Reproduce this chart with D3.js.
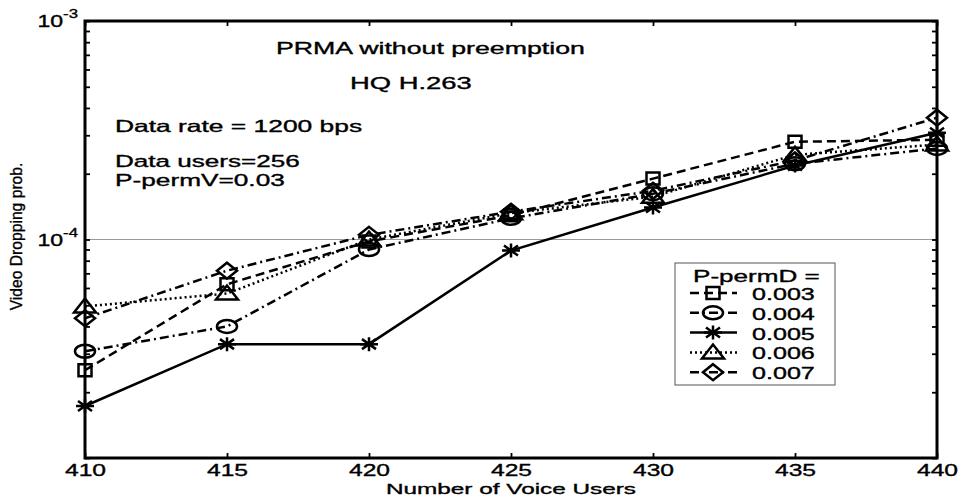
<!DOCTYPE html>
<html>
<head>
<meta charset="utf-8">
<script src="https://cdn.jsdelivr.net/npm/d3@7"></script>
<style>
  body { margin: 0; background: #fff; }
  text { font-family: "Liberation Sans", Arial, sans-serif; fill: #000; stroke: #000; stroke-width: 0.35px; }
</style>
</head>
<body>
<script>
// data
const voiceUsers = [410, 415, 420, 425, 430, 435, 440];
const permD = ["0.003", "0.004", "0.005", "0.006", "0.007"];
const p003 = [2.52e-5, 6.24e-5, 9.8e-5, 1.29e-4, 1.90e-4, 2.80e-4, 2.86e-4];
const p004 = [3.08e-5, 4.0e-5, 9.0e-5, 1.25e-4, 1.62e-4, 2.22e-4, 2.61e-4];
const p005 = [1.73e-5, 3.32e-5, 3.32e-5, 8.9e-5, 1.40e-4, 2.18e-4, 3.08e-4];
const p006 = [4.94e-5, 5.66e-5, 1.0e-4, 1.32e-4, 1.57e-4, 2.44e-4, 2.72e-4];
const p007 = [4.36e-5, 7.2e-5, 1.05e-4, 1.34e-4, 1.67e-4, 2.30e-4, 3.61e-4];
const seriesValues = [p003, p004, p005, p006, p007];
const yLabelled = [1e-4, 1e-3];
const yExponents = ["-4", "-3"];

// styles per series (matlab-ish)
const markers = ["square", "circle", "star", "triangle", "diamond"];
const dashes = ["9,5", "9,4,2,4", null, "2,3", "9,4,2,4"];

const width = 961, height = 498;
const x = d3.scaleLinear().domain([410, 440]).range([85, 937]);
const y = d3.scaleLog().domain([1e-5, 1e-3]).range([458, 21]);

const svg = d3.select("body").append("svg")
    .attr("width", width)
    .attr("height", height);

// marker outlines, a bit wider than tall like the scanned figure
const shapes = {
    square: "M-6.5,-6H6.5V6H-6.5Z",
    circle: "M-10,0A10,6.5 0 1,0 10,0A10,6.5 0 1,0 -10,0Z",
    star: "M-9,0H9M0,-7V7M-7,-5L7,5M-7,5L7,-5",
    triangle: "M0,-8L11,6H-11Z",
    diamond: "M0,-8L10,0L0,8L-10,0Z"
};

function txt(g, str, px, py, size, sx, anchor) {
    return g.append("text")
        .attr("transform", `translate(${px},${py}) scale(${sx},1)`)
        .attr("font-size", size)
        .attr("text-anchor", anchor || "start")
        .text(str);
}

// grid line at 1e-4
svg.append("line")
    .attr("x1", x(410)).attr("x2", x(440))
    .attr("y1", y(1e-4)).attr("y2", y(1e-4))
    .attr("stroke", "#999")
    .attr("stroke-width", 1);

// axes with inward ticks
const xBottom = svg.append("g")
    .attr("transform", `translate(0,${y(1e-5)})`)
    .call(d3.axisBottom(x).tickValues(voiceUsers).tickSizeInner(-5).tickSizeOuter(0).tickPadding(5.5));
xBottom.attr("font-family", null).attr("font-size", 17);
xBottom.selectAll("text").attr("transform", "scale(1.45,1)");

svg.append("g")
    .attr("transform", `translate(0,${y(1e-3)})`)
    .call(d3.axisTop(x).tickValues(voiceUsers).tickSizeInner(-5).tickSizeOuter(0).tickFormat(""));

svg.append("g")
    .attr("transform", `translate(${x(410)},0)`)
    .call(d3.axisLeft(y).tickValues(y.ticks()).tickSizeInner(-5).tickSizeOuter(0).tickFormat(""));

svg.append("g")
    .attr("transform", `translate(${x(440)},0)`)
    .call(d3.axisRight(y).tickValues(y.ticks()).tickSizeInner(-5).tickSizeOuter(0).tickFormat(""));

svg.selectAll(".domain").remove();
svg.selectAll(".tick line").attr("stroke-width", 1.8);

// frame
svg.append("rect")
    .attr("x", x(410)).attr("y", y(1e-3))
    .attr("width", x(440) - x(410))
    .attr("height", y(1e-5) - y(1e-3))
    .attr("fill", "none")
    .attr("stroke", "#000")
    .attr("stroke-width", 3);

// y tick labels 10^-n
yLabelled.forEach(function (v, i) {
    const t = svg.append("text")
        .attr("transform", `translate(78,${y(v) + 6}) scale(1.4,1)`)
        .attr("font-size", 16.5)
        .attr("text-anchor", "end");
    t.append("tspan").text("10");
    t.append("tspan").attr("dy", -9).attr("font-size", 12).text(yExponents[i]);
});

// axis titles
txt(svg, "Number of Voice Users", x(425), 494, 15.5, 1.57, "middle");
svg.append("text")
    .attr("transform", `translate(22,${y(1e-4) - 3}) rotate(-90) scale(0.95,1)`)
    .attr("font-size", 16.5)
    .attr("text-anchor", "middle")
    .text("Video Dropping prob.");

// lines + markers
const line = d3.line()
    .x((d, i) => x(voiceUsers[i]))
    .y(d => y(d));

seriesValues.forEach(function (vals, s) {
    svg.append("path")
        .datum(vals)
        .attr("d", line)
        .attr("fill", "none")
        .attr("stroke", "#000")
        .attr("stroke-width", 2.5)
        .attr("stroke-dasharray", dashes[s]);

    svg.selectAll(".m" + s)
        .data(vals)
        .enter().append("path")
        .attr("class", "m" + s)
        .attr("transform", (d, i) => `translate(${x(voiceUsers[i])},${y(d)})`)
        .attr("d", shapes[markers[s]])
        .attr("fill", "none")
        .attr("stroke", "#000")
        .attr("stroke-width", 2.5);
});

// annotations
txt(svg, "PRMA without preemption", 276, 54, 16.5, 1.62);
txt(svg, "HQ H.263", 350, 89, 16.5, 1.66);
txt(svg, "Data rate = 1200 bps", 115, 132, 16.5, 1.6);
txt(svg, "Data users=256", 115, 167, 16.5, 1.58);
txt(svg, "P-permV=0.03", 115, 186, 16.5, 1.59);

// legend
const legend = svg.append("g");
legend.append("rect")
    .attr("x", 675).attr("y", 263)
    .attr("width", 160).attr("height", 122)
    .attr("fill", "#fff")
    .attr("stroke", "#555")
    .attr("stroke-width", 1);
txt(legend, "P-permD =", 693, 282, 16.3, 1.6);

permD.forEach(function (name, s) {
    const ly = 293 + s * 19.8;
    legend.append("line")
        .attr("x1", 690).attr("x2", 737)
        .attr("y1", ly).attr("y2", ly)
        .attr("stroke", "#000")
        .attr("stroke-width", 2.5)
        .attr("stroke-dasharray", dashes[s]);
    legend.append("path")
        .attr("transform", `translate(713,${ly})`)
        .attr("d", shapes[markers[s]])
        .attr("fill", "none")
        .attr("stroke", "#000")
        .attr("stroke-width", 2.5);
    txt(legend, name, 752, ly + 7, 16.3, 1.54);
});
</script>
</body>
</html>
